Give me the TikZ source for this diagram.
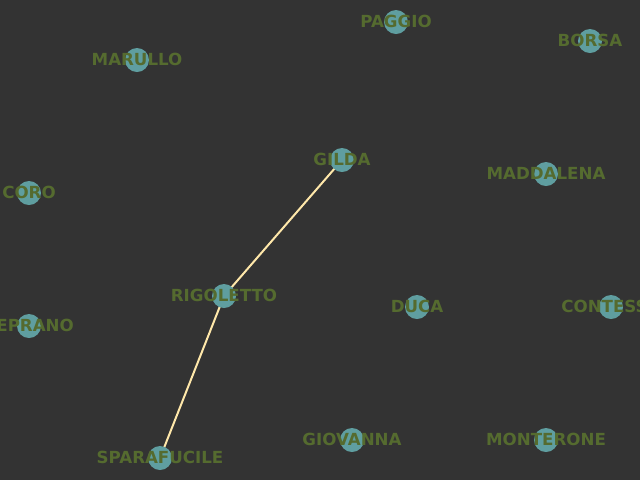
\documentclass[tikz,border=0pt]{standalone}
\usepackage{fontspec}
\setmainfont{DejaVu Sans}
\definecolor{bgc}{HTML}{333333}
\definecolor{nodec}{HTML}{5F9EA0}
\definecolor{labc}{HTML}{556B2F}
\definecolor{edgec}{HTML}{FFE8AA}
\begin{document}
\begin{tikzpicture}[x=0.75pt,y=-0.75pt,
  vert/.style={circle,fill=nodec,minimum size=18pt,inner sep=0pt},
  lab/.style={text=labc,font=\fontsize{12.5}{15}\selectfont\bfseries,inner sep=0pt},
  link/.style={draw=edgec,line width=1.5pt}]
\fill[bgc] (0,0) rectangle (640,480);
\useasboundingbox (0,0) rectangle (640,480);
\clip (0,0) rectangle (640,480);
\foreach \n/\x/\y in {PAGGIO/396/22,BORSA/590/41,MARULLO/137/60,GILDA/342/160,MADDALENA/546/174,CORO/29/193,RIGOLETTO/224/296,DUCA/417/307,CONTESSA/611/307,CEPRANO/29/326,SPARAFUCILE/160/458,GIOVANNA/352/440,MONTERONE/546/440}
  {\coordinate (p\n) at (\x,\y);}
\draw[link] (pGILDA) -- (pRIGOLETTO);
\draw[link] (pRIGOLETTO) -- (pSPARAFUCILE);
\foreach \n in {PAGGIO,BORSA,MARULLO,GILDA,MADDALENA,CORO,RIGOLETTO,DUCA,CONTESSA,CEPRANO,SPARAFUCILE,GIOVANNA,MONTERONE}
  {\node[vert] (v\n) at (p\n) {};}
\foreach \n in {PAGGIO,BORSA,MARULLO,GILDA,MADDALENA,CORO,RIGOLETTO,DUCA,CONTESSA,CEPRANO,SPARAFUCILE,GIOVANNA,MONTERONE}
  {\node[lab] (l\n) at ([yshift=0.75pt]p\n) {\n};}
\end{tikzpicture}
\end{document}
